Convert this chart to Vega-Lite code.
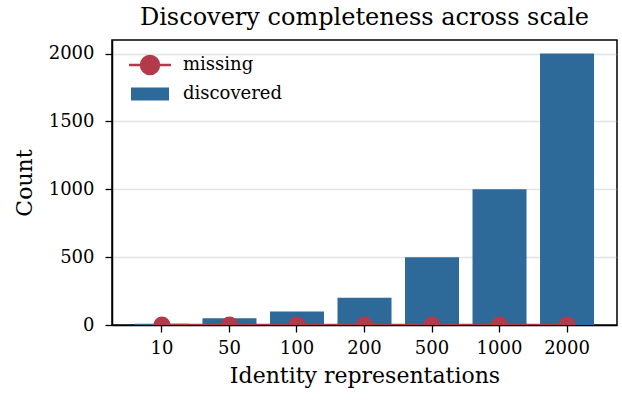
{
  "$schema": "https://vega.github.io/schema/vega-lite/v6.json",
  "width": 505,
  "height": 285,
  "autosize": {"type": "none"},
  "padding": {"left": 112, "top": 40, "right": 5, "bottom": 76},
  "background": "white",
  "title": {"text": "Discovery completeness across scale", "font": "DejaVu Serif", "fontSize": 24, "fontWeight": "normal", "color": "#000", "offset": 10, "anchor": "middle"},
  "config": {
    "view": {"stroke": "#000", "strokeWidth": 1.5},
    "font": "DejaVu Serif",
    "axis": {"domainColor": "#000", "domainWidth": 1.5, "tickColor": "#000", "tickWidth": 1.3, "tickSize": 7, "labelFont": "DejaVu Serif", "labelFontSize": 18, "labelColor": "#000", "titleFont": "DejaVu Serif", "titleFontSize": 22, "titleFontWeight": "normal", "titleColor": "#000", "gridColor": "#b0b0b0", "gridOpacity": 0.35, "gridWidth": 1.4, "zindex": 1, "labelPadding": 7}
  },
  "data": {"values": [
    {"scale": "10", "series": "discovered", "count": 10},
    {"scale": "50", "series": "discovered", "count": 50},
    {"scale": "100", "series": "discovered", "count": 100},
    {"scale": "200", "series": "discovered", "count": 200},
    {"scale": "500", "series": "discovered", "count": 500},
    {"scale": "1000", "series": "discovered", "count": 1000},
    {"scale": "2000", "series": "discovered", "count": 2000},
    {"scale": "10", "series": "missing", "count": 0},
    {"scale": "50", "series": "missing", "count": 0},
    {"scale": "100", "series": "missing", "count": 0},
    {"scale": "200", "series": "missing", "count": 0},
    {"scale": "500", "series": "missing", "count": 0},
    {"scale": "1000", "series": "missing", "count": 0},
    {"scale": "2000", "series": "missing", "count": 0}
  ]},
  "encoding": {
    "x": {"field": "scale", "type": "ordinal", "sort": ["10", "50", "100", "200", "500", "1000", "2000"],
      "scale": {"paddingInner": 0.2, "paddingOuter": 0.34},
      "axis": {"title": "Identity representations", "labelAngle": 0, "bandPosition": 0.5, "titlePadding": 8}},
    "y": {"field": "count", "type": "quantitative", "scale": {"domain": [0, 2100], "nice": false},
      "axis": {"title": "Count", "values": [0, 500, 1000, 1500, 2000], "format": "d", "labelPadding": 11, "titlePadding": 12}},
    "color": {"field": "series", "type": "nominal", "scale": {"domain": ["missing", "discovered"], "range": ["#b33a4a", "#2d6a9a"]},
      "legend": {"title": null, "orient": "none", "legendX": 29, "legendY": 16, "labelFont": "DejaVu Serif", "labelFontSize": 18, "labelColor": "#000", "symbolSize": 400, "labelOffset": 24, "rowPadding": 6,
        "encode": {"symbols": {"update": {
          "shape": {"signal": "datum.value == 'missing' ? 'M-2.1,0H2.1M-0.9,0A0.9,0.9 0 1,1 0.9,0A0.9,0.9 0 1,1 -0.9,0Z' : 'M-1.9,-0.65H1.9V0.65H-1.9Z'"},
          "fill": {"scale": "color", "field": "value"},
          "stroke": {"scale": "color", "field": "value"},
          "strokeWidth": {"signal": "datum.value == 'missing' ? 2.5 : 0"},
          "opacity": {"value": 1},
          "fillOpacity": {"value": 1},
          "size": {"value": 400}
        }}}}}
  },
  "layer": [
    {"transform": [{"filter": "datum.series == 'discovered'"}], "mark": {"type": "bar"}},
    {"transform": [{"filter": "datum.series == 'missing'"}], "mark": {"type": "line", "strokeWidth": 2.5, "clip": true}},
    {"transform": [{"filter": "datum.series == 'missing'"}], "mark": {"type": "point", "filled": true, "opacity": 1, "size": 290, "clip": true}}
  ]
}
